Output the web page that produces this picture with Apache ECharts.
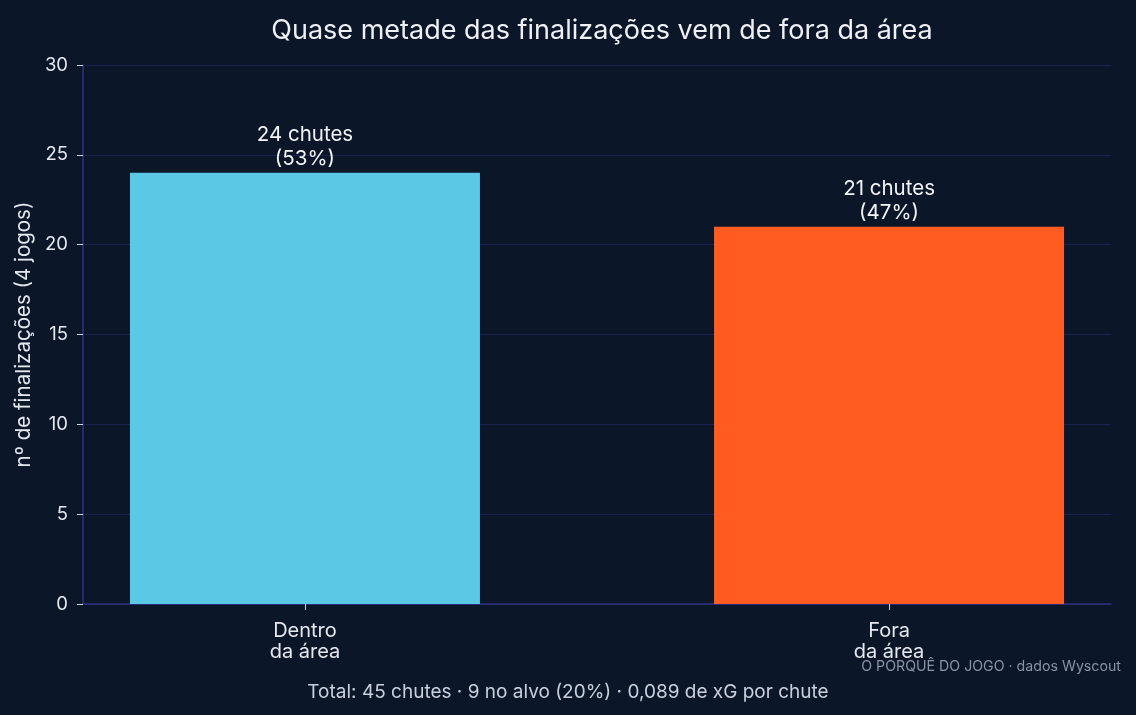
<!DOCTYPE html>
<html>
<head>
<meta charset="utf-8">
<script src="https://cdn.jsdelivr.net/npm/echarts@6/dist/echarts.min.js"></script>
<style>
html, body { margin: 0; padding: 0; background: #0b1628; }
#chart { width: 1136px; height: 715px; }
</style>
</head>
<body>
<div id="chart"></div>
<script>
// dados
var categories = ['Dentro\nda área', 'Fora\nda área'];
var shots = [24, 21];
var shares = [53, 47];
var barColors = ['#5bc8e6', '#ff5c22'];
var yTicks = [0, 5, 10, 15, 20, 25, 30];

var seriesData = [];
for (var i = 0; i < categories.length; i++) {
	seriesData.push({
		value : [i, shots[i]],
		itemStyle : { color : barColors[i] }
	});
}

var chart = echarts.init(document.getElementById('chart'));
var option = {
	backgroundColor : '#0b1628',
	textStyle : { fontFamily : 'Inter' },
	title : [ {
		text : 'Quase metade das finalizações vem de fora da área',
		left : 597,
		textAlign : 'center',
		top : 12,
		textStyle : { color : '#eef0f5', fontSize : 27, fontWeight : 'normal', fontFamily : 'Inter' }
	}, {
		text : 'Total: 45 chutes · 9 no alvo (20%) · 0,089 de xG por chute',
		left : 563,
		textAlign : 'center',
		top : 678,
		textStyle : { color : '#c9d0dc', fontSize : 19, fontWeight : 'normal', fontFamily : 'Inter' }
	}, {
		text : 'O PORQUÊ DO JOGO · dados Wyscout',
		right : 10,
		top : 655,
		textStyle : { color : '#8a93a5', fontSize : 14.2, fontWeight : 'normal', fontFamily : 'Inter' }
	} ],
	grid : { left : 83, right : 25, top : 65, bottom : 111 },
	xAxis : {
		type : 'value',
		min : -0.38,
		max : 1.38,
		splitLine : { show : false },
		axisLine : { show : true, lineStyle : { color : '#2e3282', width : 1.5 } },
		axisTick : { show : true, customValues : [0, 1], length : 6, lineStyle : { color : '#d0d4dc' } },
		axisLabel : {
			customValues : [0, 1],
			color : '#e4e7ee',
			fontSize : 20,
			lineHeight : 21,
			margin : 16,
			formatter : function(v) { return categories[Math.round(v)]; }
		}
	},
	yAxis : {
		type : 'value',
		min : yTicks[0],
		max : yTicks[yTicks.length - 1],
		interval : 5,
		name : 'nº de finalizações (4 jogos)',
		nameLocation : 'middle',
		nameGap : 48,
		nameTextStyle : { color : '#e4e7ee', fontSize : 20.5, fontFamily : 'Inter' },
		axisLine : { show : true, onZero : false, lineStyle : { color : '#2e3282', width : 1.5 } },
		axisTick : { show : true, length : 6, lineStyle : { color : '#d0d4dc' } },
		axisLabel : { color : '#e4e7ee', fontSize : 18.5, margin : 15 },
		splitLine : { show : true, lineStyle : { color : '#1c2250', width : 1 } }
	},
	series : [ {
		type : 'bar',
		barWidth : 350,
		data : seriesData,
		label : {
			show : true,
			position : 'top',
			distance : 2,
			color : '#f2f4f8',
			fontSize : 20.5,
			lineHeight : 24,
			formatter : function(p) {
				return shots[p.dataIndex] + ' chutes\n(' + shares[p.dataIndex] + '%)';
			}
		}
	} ]
};
chart.setOption(option);
</script>
</body>
</html>
